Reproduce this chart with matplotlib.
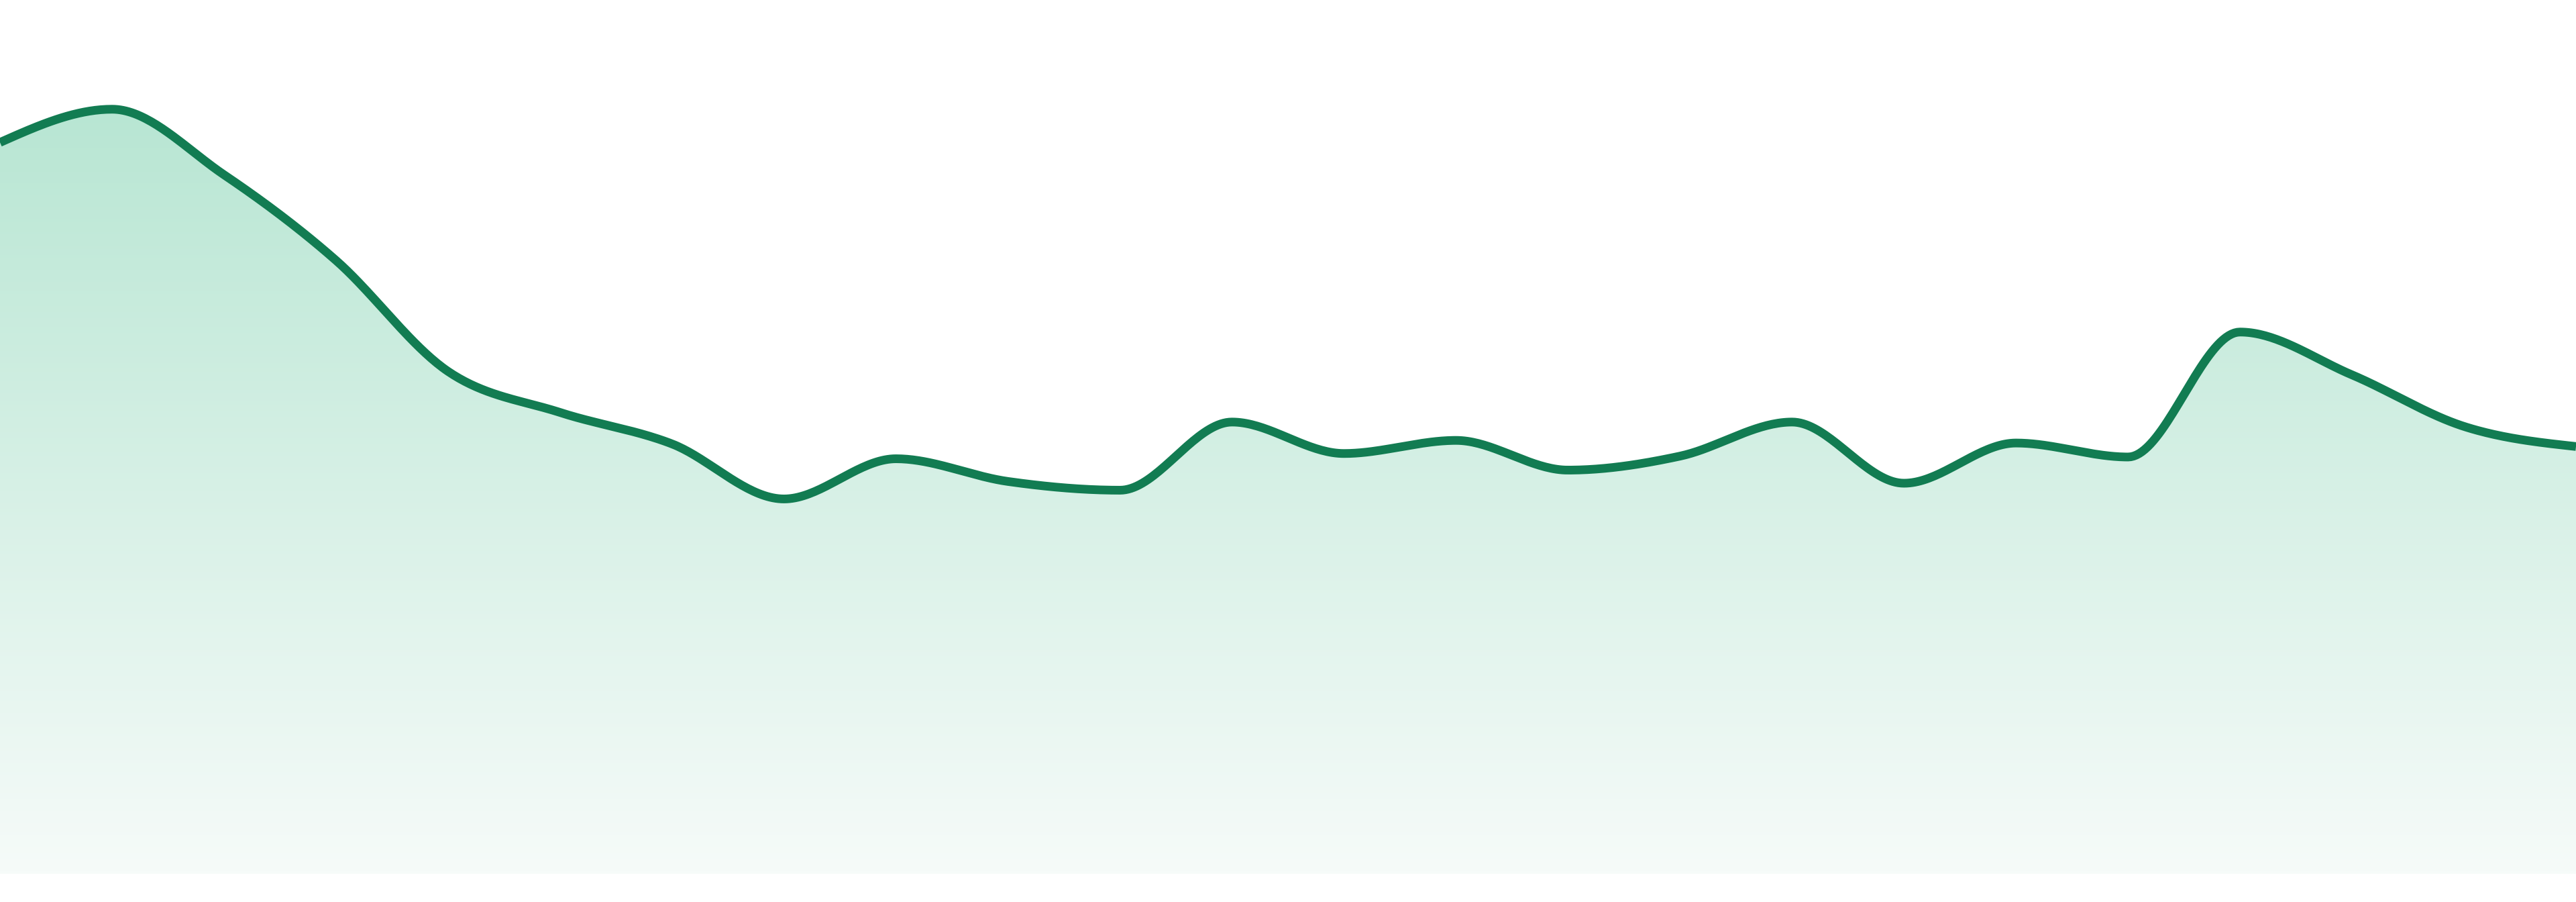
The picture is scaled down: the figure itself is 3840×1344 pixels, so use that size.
import numpy as np
import matplotlib
matplotlib.use("Agg")
import matplotlib.pyplot as plt
from matplotlib.colors import LinearSegmentedColormap

# Data (24 evenly spaced samples)
steps = np.arange(24)
values = [83.7, 87.5, 80.0, 70.2, 57.5, 52.8, 49.2, 42.9, 47.5, 44.9, 43.9, 51.7,
          48.1, 49.6, 46.2, 47.8, 51.7, 44.7, 49.3, 47.7, 62.0, 57.1, 51.2, 48.9]

line_color = "#127c52"
fill_top = "#b8e6d3"
fill_bottom = "#f6fbf9"


def monotone_curve(x, y, n=40):
    # monotone cubic (same idea as d3.curveMonotoneX), only for drawing
    x = np.asarray(x, float)
    y = np.asarray(y, float)
    h = np.diff(x)
    s = np.diff(y) / h
    t = np.zeros_like(y)
    for i in range(1, len(y) - 1):
        p = (s[i - 1] * h[i] + s[i] * h[i - 1]) / (h[i - 1] + h[i])
        t[i] = (np.sign(s[i - 1]) + np.sign(s[i])) * min(abs(s[i - 1]), abs(s[i]), 0.5 * abs(p))
    t[0] = (3 * s[0] - t[1]) / 2
    t[-1] = (3 * s[-1] - t[-2]) / 2
    xs, ys = [], []
    u = np.linspace(0, 1, n, endpoint=False)
    for i in range(len(h)):
        dx = h[i] / 3
        p0 = np.array([x[i], y[i]])
        p1 = np.array([x[i] + dx, y[i] + dx * t[i]])
        p2 = np.array([x[i + 1] - dx, y[i + 1] - dx * t[i + 1]])
        p3 = np.array([x[i + 1], y[i + 1]])
        pts = ((1 - u) ** 3)[:, None] * p0 + (3 * (1 - u) ** 2 * u)[:, None] * p1 \
            + (3 * (1 - u) * u ** 2)[:, None] * p2 + (u ** 3)[:, None] * p3
        xs.append(pts[:, 0])
        ys.append(pts[:, 1])
    xs.append([x[-1]])
    ys.append([y[-1]])
    return np.concatenate(xs), np.concatenate(ys)


fig = plt.figure(figsize=(12.8, 4.48), dpi=300)
ax = fig.add_axes([0, 42 / 1344, 1, 1302 / 1344])
ax.set_xlim(steps[0], steps[-1])
ax.set_ylim(0, 100)
ax.axis("off")

cx, cy = monotone_curve(steps, values)

# gradient area under the curve
cmap = LinearSegmentedColormap.from_list("grad", [fill_bottom, fill_top])
top = max(values)
grad = np.linspace(0, 1, 256).reshape(-1, 1)
img = ax.imshow(grad, cmap=cmap, aspect="auto", origin="lower",
                extent=[steps[0], steps[-1], 0, top], zorder=1)
poly = ax.fill_between(cx, cy, 0, facecolor="none", edgecolor="none")
img.set_clip_path(poly.get_paths()[0], transform=ax.transData)

ax.plot(cx, cy, color=line_color, linewidth=3.1, solid_capstyle="butt", zorder=3)

fig.savefig("out.png", dpi=300, facecolor="white")
